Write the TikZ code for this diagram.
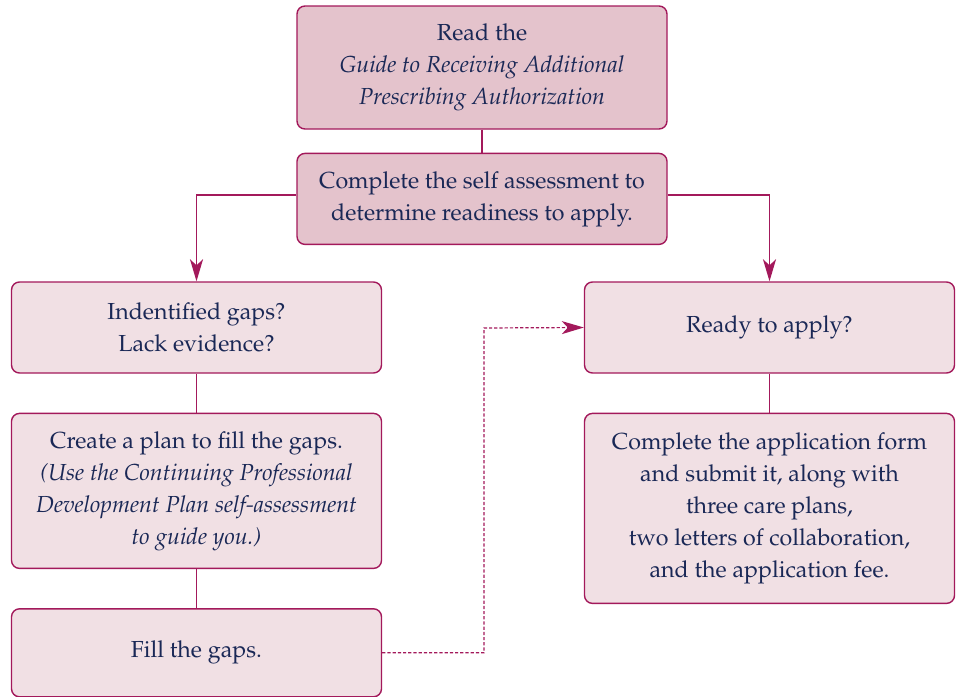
\documentclass[tikz,border=0pt]{standalone}
\usepackage[T1]{fontenc}
\usepackage{mathpazo}
\usepackage{xcolor}
\usepackage{tikz}
\usetikzlibrary{arrows.meta, positioning}

\definecolor{plum}{HTML}{A3195B}
\definecolor{rosedark}{HTML}{E4C3CC}
\definecolor{roselight}{HTML}{F1E0E4}
\definecolor{navy}{HTML}{1A2856}

\begin{document}
\begin{tikzpicture}[
			x=0.5pt, y=-0.5pt,
			font=\fontsize{11.6}{16}\selectfont,
			box/.style={
				draw=plum,
				line width=0.7pt,
				rounded corners=4pt,
				align=center,
				text=navy,
				minimum width=185pt,
				inner sep=0pt
			},
			topbox/.style={box, fill=rosedark},
			lowbox/.style={box, fill=roselight},
			link/.style={plum, line width=0.9pt},
			arr/.style={link, -{Stealth[length=11pt, width=6.5pt, inset=3pt]}},
			dashlink/.style={plum, line width=0.6pt, dash pattern=on 1.6pt off 1pt,
				-{Stealth[length=11pt, width=6.5pt, inset=3pt]}},
			node distance=19.5pt
			]
			
			\useasboundingbox (0,0) rectangle (958,696);
			
			\node[topbox, minimum height=61.5pt] (read) at (482,67.5)
				{Read the\\ \textit{Guide to Receiving Additional}\\ \textit{Prescribing Authorization}};
			\node[topbox, minimum height=45.5pt, below=11.5pt of read] (self)
				{Complete the self assessment to\\ determine readiness to apply.};
			
			\node[lowbox, minimum height=45.5pt] (gaps) at (196.5,327.5)
				{Indentified gaps?\\ Lack evidence?};
			\node[lowbox, minimum height=77.5pt, below=of gaps] (plan)
				{Create a plan to fill the gaps.\\ \textit{(Use the Continuing Professional}\\
				 \textit{Development Plan self-assessment}\\ \textit{to guide you.)}};
			\node[lowbox, minimum height=44pt, below=of plan] (fill) {Fill the gaps.};
			
			\node[lowbox, minimum height=45.5pt] (ready) at (769.5,327.5) {Ready to apply?};
			\node[lowbox, minimum height=95pt, below=of ready] (apply)
				{Complete the application form\\ and submit it, along with\\ three care plans,\\
				 two letters of collaboration,\\ and the application fee.};
			
			\coordinate (bend) at (484,328);
			
			\draw[link] (read) -- (self);
			\draw[arr] ([yshift=2pt]self.west) -| (gaps.north);
			\draw[arr] ([yshift=2pt]self.east) -| (ready.north);
			\draw[link] (gaps) -- (plan);
			\draw[link] (plan) -- (fill);
			\draw[link] (ready) -- (apply);
			\draw[dashlink] (fill.east) -| (bend) -- (ready.west);
			
		\end{tikzpicture}
\end{document}
